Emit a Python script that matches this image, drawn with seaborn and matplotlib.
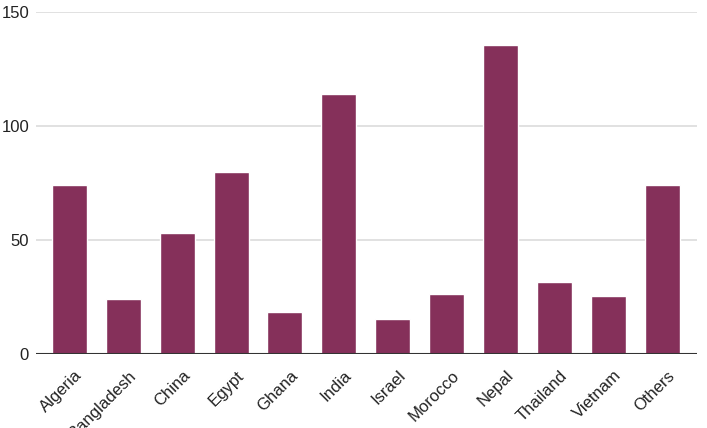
import matplotlib
matplotlib.use("Agg")
import matplotlib.pyplot as plt
import matplotlib.transforms as mtransforms
import seaborn as sns
import pandas as pd

# Data
countries = ["Algeria", "Bangladesh", "China", "Egypt", "Ghana", "India",
             "Israel", "Morocco", "Nepal", "Thailand", "Vietnam", "Others"]
counts = [74, 24, 53, 80, 18.5, 114, 15.5, 26.5, 135.5, 31.5, 25.5, 74]
y_ticks = [0, 50, 100, 150]

df = pd.DataFrame({"country": countries, "count": counts})

sns.set_style("white")
plt.rcParams["font.family"] = ["Liberation Sans", "DejaVu Sans"]

fig = plt.figure(figsize=(7.07, 4.28), dpi=100)
ax = fig.add_axes([0.051, 0.173, 0.935, 0.799])

sns.barplot(data=df, x="country", y="count", color="#85305A",
            saturation=1, width=0.65, ax=ax, zorder=3)

ax.set_ylim(0, 150)
ax.set_xlim(-0.62, 11.65)
ax.set_yticks(y_ticks)
ax.yaxis.grid(True, color="#d9d9d9", linewidth=1.1, zorder=0)
ax.axhline(0, color="#333333", linewidth=1.5, zorder=4)

for s in ax.spines.values():
    s.set_visible(False)

ax.tick_params(axis="both", length=0, labelsize=12, colors="#222222")
ax.tick_params(axis="y", pad=5)
ax.tick_params(axis="x", pad=10)

# shift rotated labels a bit to the right like the reference
shift = mtransforms.ScaledTranslation(5 / 100, 0, fig.dpi_scale_trans)
for lab in ax.get_xticklabels():
    lab.set_rotation(45)
    lab.set_ha("right")
    lab.set_rotation_mode("anchor")
    lab.set_transform(lab.get_transform() + shift)

ax.set_xlabel("")
ax.set_ylabel("")

fig.savefig("out.png", dpi=100)
